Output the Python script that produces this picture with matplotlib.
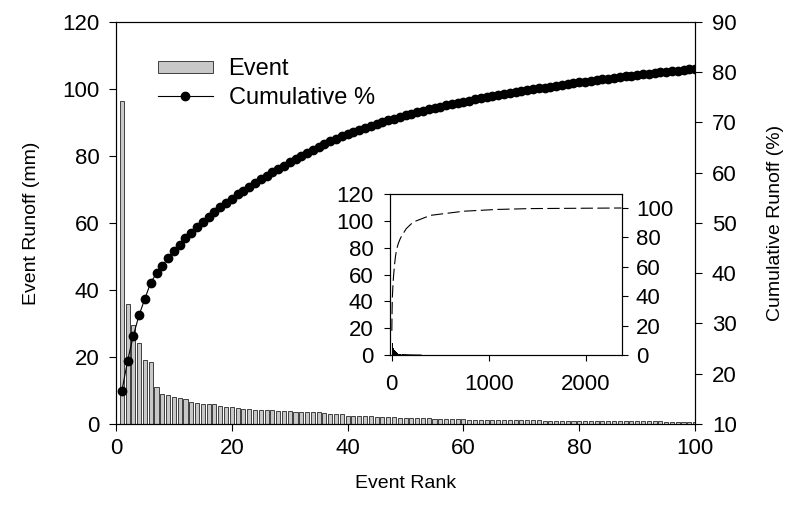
import numpy as np
import matplotlib
matplotlib.use("Agg")
import matplotlib.pyplot as plt

plt.rcParams["font.family"] = ["Liberation Sans", "DejaVu Sans"]
plt.rcParams["font.size"] = 14

# event runoff (mm) for the 100 largest events, ranked
rank = np.arange(1, 101)
event_runoff = [
    96.5, 35.7, 29.5, 24.1, 19.0, 18.6, 10.9, 8.9, 8.6, 8.1,
    7.7, 7.4, 6.5, 6.2, 6.1, 6.0, 5.9, 5.5, 5.2, 5.0,
    4.8, 4.6, 4.4, 4.3, 4.2, 4.2, 4.1, 4.0, 3.9, 3.8,
    3.7, 3.7, 3.6, 3.5, 3.5, 3.4, 3.1, 3.0, 2.9, 2.5,
    2.4, 2.4, 2.3, 2.3, 2.2, 2.2, 2.1, 2.0, 1.9, 1.9,
    1.8, 1.8, 1.8, 1.7, 1.6, 1.6, 1.5, 1.5, 1.4, 1.4,
    1.3, 1.3, 1.3, 1.3, 1.2, 1.2, 1.2, 1.2, 1.1, 1.1,
    1.1, 1.1, 1.1, 1.0, 1.0, 1.0, 1.0, 1.0, 1.0, 0.9,
    0.9, 0.9, 0.9, 0.9, 0.9, 0.9, 0.8, 0.8, 0.8, 0.8,
    0.8, 0.8, 0.8, 0.8, 0.7, 0.7, 0.7, 0.7, 0.7, 0.7,
]
total_runoff = 586.0  # all events, mm
cum_pct = np.cumsum(event_runoff) / total_runoff * 100

# inset: remaining events (all ~2370 of them)
tail_rank = [100, 150, 200, 250, 300]
tail_event = [0.7, 0.5, 0.4, 0.35, 0.3]
tail_cum_rank = [150, 220, 400, 740, 1080, 1430, 2370]
tail_cum_pct = [86.0, 90.4, 95.0, 97.8, 99.0, 99.6, 100.0]

fig = plt.figure(figsize=(7.89, 5.17), dpi=100)

ax = fig.add_axes([0.147, 0.180, 0.734, 0.7776])
bars = ax.bar(rank, event_runoff, width=0.7, color="#c8c8c8",
              edgecolor="black", linewidth=0.5, label="Event")
ax.set_xlim(0, 100)
ax.set_ylim(0, 120)
ax.set_xticks(range(0, 101, 20))
ax.set_yticks(range(0, 121, 20))
ax.tick_params(direction="out", length=5, width=0.8, labelsize=16)
ax.tick_params(axis="y", pad=7)
ax.tick_params(axis="x", pad=5)
ax.set_xlabel("Event Rank", labelpad=12)
ax.set_ylabel("Event Runoff (mm)", labelpad=16)

ax2 = ax.twinx()
line, = ax2.plot(rank, cum_pct, "-o", color="black", ms=6, lw=0.8,
                 label="Cumulative %")
ax2.set_ylim(10, 90)
ax2.set_yticks(range(10, 91, 10))
ax2.tick_params(direction="out", length=5, width=0.8, pad=7, labelsize=16)
ax2.set_ylabel("Cumulative Runoff (%)", labelpad=22)

for a in (ax, ax2):
    for s in a.spines.values():
        s.set_linewidth(0.8)

ax2.legend([bars, line], ["Event", "Cumulative %"], loc="upper left",
           bbox_to_anchor=(0.072, 0.91), frameon=False, borderpad=0,
           borderaxespad=0, handlelength=2.35, handleheight=0.42,
           handletextpad=0.65, labelspacing=0.28, fontsize=17)

# inset with the full record
axin = fig.add_axes([0.4943, 0.3133, 0.294, 0.3114])
axin.bar(rank, event_runoff, width=1, color="black", linewidth=0)
axin.fill_between(tail_rank, tail_event, color="black", lw=0.8)
axin.set_xlim(-18, 2375)
axin.set_ylim(0, 120)
axin.set_xticks([0, 1000, 2000])
axin.set_yticks(range(0, 121, 20))
axin.tick_params(direction="out", length=4, width=0.8, labelsize=16)
axin.tick_params(axis="y", pad=8)
axin.tick_params(axis="x", pad=10)

axin2 = axin.twinx()
axin2.plot(np.concatenate([rank, tail_cum_rank]),
           np.concatenate([cum_pct, tail_cum_pct]),
           color="black", lw=0.8, dashes=(11, 4))
axin2.set_ylim(0, 109.5)
axin2.set_yticks(range(0, 101, 20))
axin2.tick_params(direction="out", length=4, width=0.8, pad=6, labelsize=16)

for a in (axin, axin2):
    for s in a.spines.values():
        s.set_linewidth(0.8)

fig.savefig("out.png", dpi=100)
